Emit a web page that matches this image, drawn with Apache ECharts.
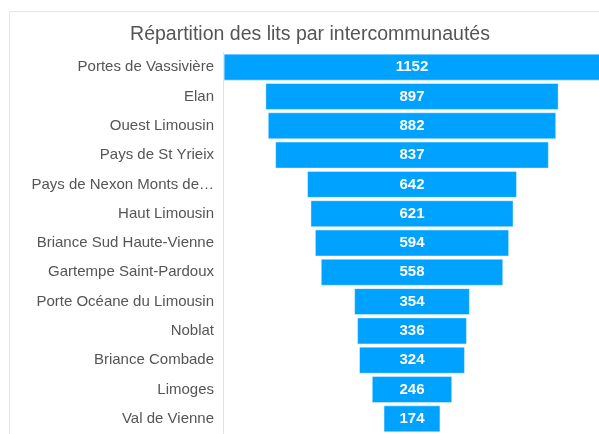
<!DOCTYPE html>
<html>

<head>
    <title>Répartition des lits</title>
    <meta charset="utf-8">
    <script src="https://cdn.jsdelivr.net/npm/echarts@6/dist/echarts.min.js"></script>
    <style>
        html, body { margin: 0; padding: 0; overflow: hidden; background: #fff; }
        #wrap { position: absolute; left: 9px; top: 11px; width: 600px; height: 440px; border: 1px solid #e6e6e6; }
    </style>
</head>

<body>
    <div id="wrap"><div id="funnel" style="width: 600px;height:440px;"></div></div>
    <script>
        var names = ['Portes de Vassivière', 'Elan', 'Ouest Limousin', 'Pays de St Yrieix',
            'Pays de Nexon Monts de Châlus', 'Haut Limousin', 'Briance Sud Haute-Vienne',
            'Gartempe Saint-Pardoux', 'Porte Océane du Limousin', 'Noblat', 'Briance Combade',
            'Limoges', 'Val de Vienne'];
        var lits = [1152, 897, 882, 837, 642, 621, 594, 558, 354, 336, 324, 246, 174];
        var axisMax = 1156;

        var chartDom = document.getElementById('funnel');
        var myChart = echarts.init(chartDom);
        var font = 'Liberation Sans, Arial, Helvetica, sans-serif';
        var option = {
            animation: false,
            title: {
                text: 'Répartition des lits par intercommunautés',
                left: 'center',
                top: 8,
                textStyle: { color: '#555', fontSize: 19.5, fontWeight: 'normal', fontFamily: font }
            },
            grid: { left: 213, top: 40.5, width: 378, height: 381 },
            xAxis: { type: 'value', min: 0, max: axisMax, show: false },
            yAxis: {
                type: 'category',
                inverse: true,
                data: names,
                axisLine: { lineStyle: { color: '#e2e2e2' } },
                axisTick: { show: false },
                axisLabel: {
                    color: '#555', fontSize: 15, fontFamily: font, margin: 9,
                    width: 187, overflow: 'truncate', ellipsis: '…'
                }
            },
            series: [
                {
                    type: 'bar',
                    stack: 'f',
                    silent: true,
                    itemStyle: { color: 'transparent' },
                    data: lits.map(v => (axisMax - v) / 2)
                },
                {
                    type: 'bar',
                    stack: 'f',
                    barCategoryGap: '8%',
                    itemStyle: { color: '#00a2ff', borderColor: 'rgba(255,255,255,0.4)', borderWidth: 1 },
                    label: {
                        show: true, position: 'inside', color: '#fff',
                        fontSize: 15, fontWeight: 'bold', fontFamily: font
                    },
                    data: lits
                }
            ]
        };
        myChart.setOption(option);
    </script>
</body>

</html>
